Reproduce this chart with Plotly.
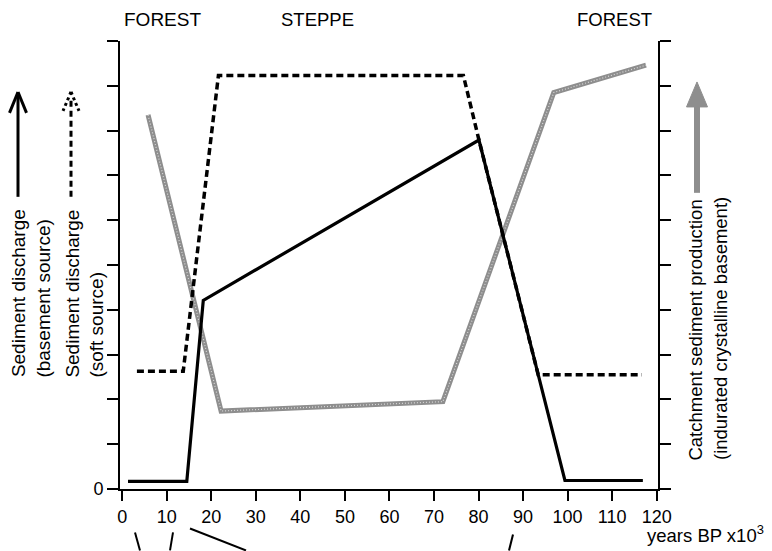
import plotly.graph_objects as go

# ---- data ----
basement_x = [1.3, 14.5, 18.2, 80.1, 99.4, 116.9]
basement_y = [0.17, 0.17, 4.21, 7.79, 0.19, 0.19]

soft_x = [3.3, 13.7, 21.6, 76.6, 80.1, 93.4, 116.7]
soft_y = [2.63, 2.63, 9.23, 9.23, 7.79, 2.55, 2.55]

catch_x = [5.8, 22.2, 72.0, 96.9, 117.6]
catch_y = [8.35, 1.74, 1.95, 8.85, 9.46]

x_ticks = [0, 10, 20, 30, 40, 50, 60, 70, 80, 90, 100, 110, 120]
y_label_ticks = [0]
y_label_text = ["0"]
y_tick_step = 1

vegetation_labels = ["FOREST", "STEPPE", "FOREST"]

FONT = "Liberation Sans, Arial, Helvetica, sans-serif"
GRAY = "#8e8e8e"

# The page body has an 8px margin, so the figure is 8px smaller than the window.
OFF = 8
W, H = 772 - OFF, 551 - OFF
# plot area in page pixels
PL, PR, PT, PB = 120, 658, 41, 489.5
PW = PR - PL
PH = PB - PT
ML, MT = PL - OFF, PT - OFF
MR = W - ML - PW
MB = H - MT - PH


def px(x):
    return (x - PL) / PW


def py(y):
    return (PB - y) / PH


fig = go.Figure()

fig.add_trace(go.Scatter(x=catch_x, y=catch_y, mode="lines",
                         line=dict(color=GRAY, width=5), showlegend=False,
                         hoverinfo="skip"))
fig.add_trace(go.Scatter(x=catch_x, y=catch_y, mode="lines",
                         line=dict(color="#d8d8d8", width=1.2, dash="1px,2px"),
                         showlegend=False, hoverinfo="skip"))
fig.add_trace(go.Scatter(x=soft_x, y=soft_y, mode="lines",
                         line=dict(color="black", width=3.5, dash="7px,4px"),
                         showlegend=False))
fig.add_trace(go.Scatter(x=basement_x, y=basement_y, mode="lines",
                         line=dict(color="black", width=3.2),
                         showlegend=False))

shapes = []


def seg(x0, y0, x1, y1, color="black", width=3, dash="solid"):
    shapes.append(dict(type="line", xref="paper", yref="paper",
                       x0=px(x0), y0=py(y0), x1=px(x1), y1=py(y1),
                       line=dict(color=color, width=width, dash=dash)))


# solid arrow (basement source)
seg(18, 197, 18, 93, width=3)
seg(18, 92, 9.5, 113, width=3)
seg(18, 92, 26.5, 113, width=3)
# dashed arrow (soft source)
seg(71, 197, 71, 98, width=3, dash="6px,4px")
seg(71, 92, 63, 111, width=3, dash="3px,3px")
seg(71, 92, 79, 111, width=3, dash="3px,3px")
# gray arrow (catchment production)
seg(697, 193, 697, 104, color=GRAY, width=6)
shapes.append(dict(type="path", xref="paper", yref="paper",
                   path=f"M {px(697)} {py(82)} L {px(686.5)} {py(107)} L {px(707.5)} {py(107)} Z",
                   fillcolor=GRAY, line=dict(color=GRAY, width=1)))

# connector lines below the axis
seg(135, 533, 140, 551, width=2)
seg(173, 533, 170, 551, width=2)
seg(190, 529, 246, 551, width=2)
seg(513, 535, 509, 551, width=2)

annotations = []


def txt(x, y, s, angle=0, xanchor="center", yanchor="middle", size=19):
    annotations.append(dict(x=px(x), y=py(y), xref="paper", yref="paper",
                            text=s, showarrow=False, textangle=angle,
                            xanchor=xanchor, yanchor=yanchor,
                            font=dict(family=FONT, size=size, color="black")))


txt(162.5, 19, vegetation_labels[0])
txt(317, 19, vegetation_labels[1], size=18.5)
txt(614.5, 19, vegetation_labels[2], size=18.5)

txt(18.5, 380, "Sediment discharge", angle=-90, yanchor="bottom")
txt(44, 380, "(basement source)", angle=-90, yanchor="bottom")
txt(73, 380, "Sediment discharge", angle=-90, yanchor="bottom")
txt(97, 380, "(soft source)", angle=-90, yanchor="bottom")

txt(695.5, 463, "Catchment sediment production", angle=-90, yanchor="bottom", size=18.5)
txt(720, 463, "(indurated crystalline basement)", angle=-90, yanchor="bottom", size=18.5)

txt(645, 535, "years BP x10<sup>3</sup>", xanchor="left", size=18.5)

fig.update_layout(
    width=W, height=H,
    margin=dict(l=ML, r=MR, t=MT, b=MB, pad=0),
    paper_bgcolor="white", plot_bgcolor="white",
    font=dict(family=FONT, size=18, color="black"),
    shapes=shapes, annotations=annotations,
    xaxis=dict(range=[-0.5, 120.3], tickvals=x_ticks, ticks="outside",
               ticklen=10, tickwidth=2, tickcolor="black",
               showline=True, linecolor="black", linewidth=2,
               showgrid=False, zeroline=False, mirror=False,
               tickfont=dict(family=FONT, size=18)),
    yaxis=dict(range=[0, 10], tickvals=y_label_ticks, ticktext=y_label_text,
               ticks="outside", ticklen=11, tickwidth=2, tickcolor="black",
               minor=dict(ticks="outside", dtick=y_tick_step, tick0=0,
                          ticklen=11, tickwidth=2, tickcolor="black",
                          showgrid=False),
               showline=True, linecolor="black", linewidth=2,
               showgrid=False, zeroline=False, mirror="ticks",
               tickfont=dict(family=FONT, size=18)),
)

fig.write_html("out.html")
